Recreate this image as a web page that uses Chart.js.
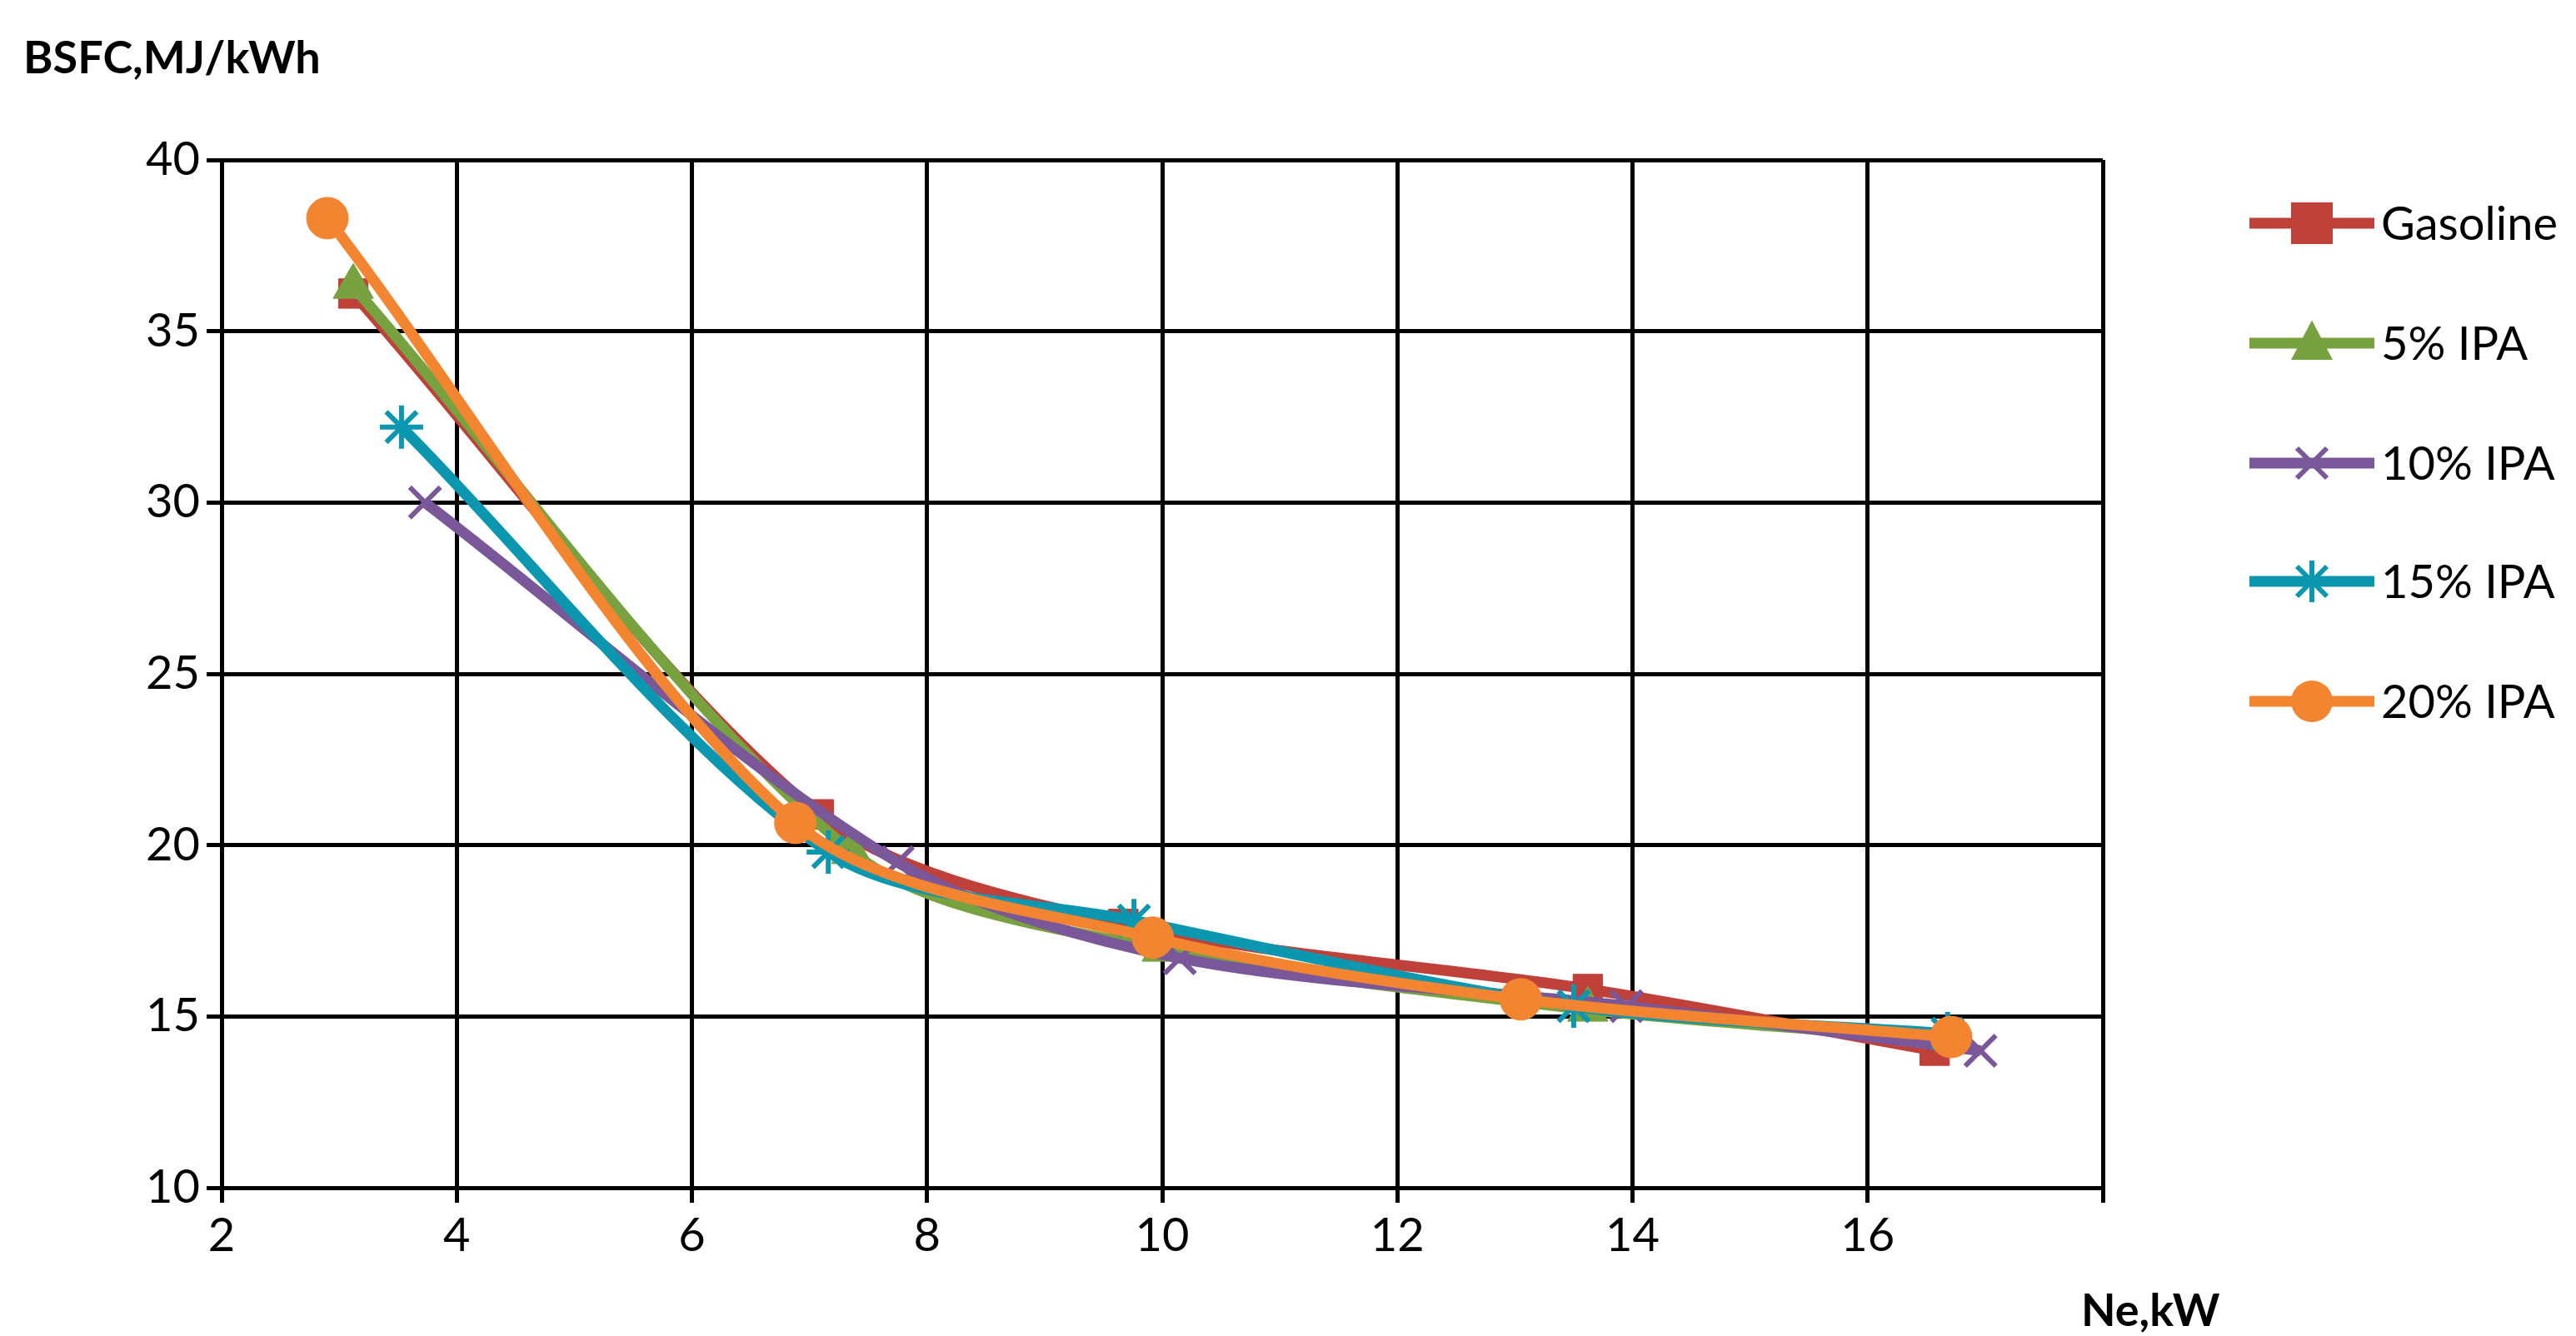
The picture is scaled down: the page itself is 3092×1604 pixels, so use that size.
<!DOCTYPE html>
<html><head><meta charset="utf-8">
<script src="https://cdn.jsdelivr.net/npm/chart.js@4"></script>
<style>html,body{margin:0;padding:0;background:#fff}#w{width:3092px;height:1604px}</style>
</head><body><div id="w"><canvas id="c"></canvas></div>
<script>
const seriesNames = ["Gasoline","5% IPA","10% IPA","15% IPA","20% IPA"];
const colors = ["#C0403A","#78A240","#7A5799","#0B97B0","#F38530"];
const styles = ["rect","triangle","crossRot","star","circle"];
const xGasoline = [3.12,7.08,9.67,13.62,16.57];
const yGasoline = [36.1,20.9,17.7,15.8,14.0];
const x5 = [3.12,7.36,10.0,13.62,16.77];
const y5 = [36.3,19.8,16.95,15.2,14.3];
const x10 = [3.73,7.75,10.15,13.95,16.96];
const y10 = [30.0,19.5,16.7,15.3,14.0];
const x15 = [3.53,7.16,9.76,13.5,16.68];
const y15 = [32.2,19.8,17.8,15.3,14.5];
const x20 = [2.9,6.88,9.92,13.05,16.71];
const y20 = [38.3,20.65,17.3,15.5,14.4];
const xTicks = [2,4,6,8,10,12,14,16,18];
const yTicks = [10,15,20,25,30,35,40];
const xs=[xGasoline,x5,x10,x15,x20], ys=[yGasoline,y5,y10,y15,y20];
const FONT='Lato, "Open Sans", sans-serif';
const datasets = seriesNames.map((n,i)=>({
  label:n, data:xs[i].map((x,j)=>({x,y:ys[i][j]})), order:5-i,
  borderColor:colors[i], backgroundColor:colors[i], borderWidth:13,
  pointStyle:styles[i], pointRadius:(styles[i]==='crossRot'||styles[i]==='star')?26:(styles[i]==='triangle'?28:25),
  pointBorderWidth:(styles[i]==='crossRot'||styles[i]==='star')?6:1,
  showLine:true, tension:0.3, fill:false
}));
const legendPlugin={id:'lg',afterDraw(ch){
  const c=ch.ctx; c.save();
  const x0=2700,x1=2850,ys0=[268,412,556,698,842];
  datasets.forEach((d,i)=>{
    const y=ys0[i];
    c.strokeStyle=d.borderColor;c.lineWidth=13;c.beginPath();c.moveTo(x0,y);c.lineTo(x1,y);c.stroke();
    c.fillStyle=d.backgroundColor;c.lineWidth=6;
    const m=(x0+x1)/2, r=25;
    c.beginPath();
    if(d.pointStyle==='rect'){c.fillRect(m-r,y-r,2*r,2*r);}
    else if(d.pointStyle==='triangle'){c.moveTo(m,y-r*1.1);c.lineTo(m+r,y+r*0.8);c.lineTo(m-r,y+r*0.8);c.closePath();c.fill();}
    else if(d.pointStyle==='circle'){c.arc(m,y,r,0,Math.PI*2);c.fill();}
    else {const k=r*0.72;c.moveTo(m-k,y-k);c.lineTo(m+k,y+k);c.moveTo(m+k,y-k);c.lineTo(m-k,y+k);
      if(d.pointStyle==='star'){c.moveTo(m,y-r);c.lineTo(m,y+r);} c.stroke();}
    c.fillStyle='#000';c.font='56px '+FONT;c.textBaseline='middle';c.fillText(d.label,x1+8,y+2);
  });
  c.font='bold 54px '+FONT;c.textBaseline='alphabetic';
  c.fillText('BSFC,MJ/kWh',28,88);
  c.fillText('Ne,kW',2498,1592);
  c.restore();
}};
Chart.defaults.font.family=FONT;
new Chart(document.getElementById('c'),{type:'scatter',data:{datasets},plugins:[legendPlugin],
options:{responsive:true,maintainAspectRatio:false,animation:false,
 layout:{padding:{top:192,right:568,left:0,bottom:0}},
 plugins:{legend:{display:false},tooltip:{enabled:false}},
 scales:{
  x:{type:'linear',min:2,max:18,afterBuildTicks(a){a.ticks=xTicks.map(v=>({value:v}));},
     afterFit(a){a.height=178;},
     grid:{color:'#000',lineWidth:5,tickLength:18,tickColor:'#000'},border:{color:'#000',width:5},
     ticks:{color:'#000',font:{size:56},padding:6,callback:v=>v===18?'':v}},
  y:{type:'linear',min:10,max:40,afterBuildTicks(a){a.ticks=yTicks.map(v=>({value:v}));},
     afterFit(a){a.width=266;},
     grid:{color:'#000',lineWidth:5,tickLength:18,tickColor:'#000'},border:{color:'#000',width:5},
     ticks:{color:'#000',font:{size:56},padding:8}}
 }}});
</script></body></html>
